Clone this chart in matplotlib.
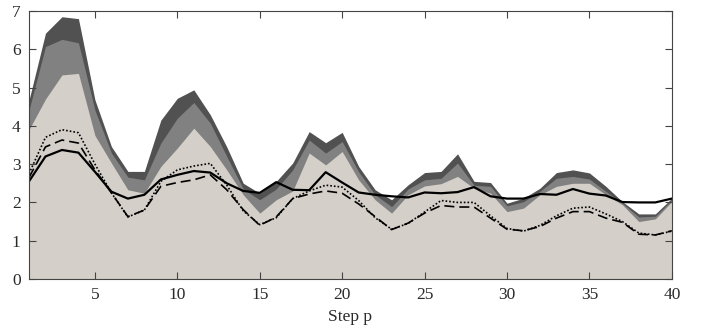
import numpy as np
import matplotlib
matplotlib.use('Agg')
import matplotlib.pyplot as plt

plt.rcParams['font.family'] = ['Liberation Serif', 'DejaVu Serif']

steps = np.arange(1, 41)

# top of each filled layer (light base, mid gray, dark gray)
layer_light = [3.9, 4.7, 5.33, 5.37, 3.75, 3.03, 2.33, 2.24, 2.94, 3.42,
               3.94, 3.46, 2.85, 2.2, 1.72, 2.07, 2.3, 3.29, 2.98, 3.33,
               2.59, 2.07, 1.72, 2.2, 2.43, 2.49, 2.68, 2.37, 2.24, 1.76,
               1.85, 2.2, 2.42, 2.5, 2.5, 2.2, 1.94, 1.5, 1.57, 2.02]
layer_mid = [4.41, 6.07, 6.26, 6.17, 4.41, 3.29, 2.66, 2.59, 3.55, 4.2,
             4.61, 4.07, 3.2, 2.35, 2.07, 2.35, 2.85, 3.63, 3.29, 3.59,
             2.8, 2.2, 1.89, 2.35, 2.59, 2.63, 3.03, 2.45, 2.42, 1.91,
             2.02, 2.29, 2.63, 2.68, 2.61, 2.29, 1.98, 1.62, 1.64, 2.07]
layer_dark = [4.67, 6.42, 6.85, 6.8, 4.68, 3.46, 2.81, 2.81, 4.15, 4.72,
              4.94, 4.29, 3.45, 2.5, 2.24, 2.55, 3.03, 3.85, 3.56, 3.83,
              2.94, 2.33, 2.07, 2.46, 2.78, 2.81, 3.27, 2.55, 2.52, 1.98,
              2.11, 2.37, 2.78, 2.85, 2.77, 2.42, 2.02, 1.7, 1.7, 2.11]

solid = [2.55, 3.2, 3.37, 3.3, 2.8, 2.28, 2.1, 2.2, 2.6, 2.72,
         2.82, 2.78, 2.5, 2.3, 2.25, 2.53, 2.33, 2.32, 2.79, 2.52,
         2.26, 2.2, 2.16, 2.13, 2.26, 2.24, 2.27, 2.4, 2.16, 2.1,
         2.1, 2.22, 2.2, 2.35, 2.23, 2.18, 2.01, 2.0, 2.0, 2.1]
dashed = [2.65, 3.45, 3.63, 3.55, 2.85, 2.25, 1.63, 1.8, 2.42, 2.52,
          2.59, 2.72, 2.33, 1.81, 1.4, 1.62, 2.1, 2.22, 2.3, 2.24,
          1.96, 1.63, 1.29, 1.46, 1.72, 1.92, 1.88, 1.88, 1.59, 1.3,
          1.26, 1.37, 1.59, 1.76, 1.76, 1.59, 1.48, 1.17, 1.15, 1.26]
dotted = [2.75, 3.7, 3.9, 3.82, 3.0, 2.25, 1.62, 1.8, 2.55, 2.85,
          2.95, 3.02, 2.45, 1.78, 1.42, 1.6, 2.1, 2.3, 2.45, 2.4,
          2.05, 1.6, 1.3, 1.45, 1.75, 2.05, 2.0, 2.0, 1.65, 1.32,
          1.25, 1.4, 1.65, 1.85, 1.88, 1.7, 1.5, 1.2, 1.15, 1.25]

fig = plt.figure(figsize=(7.02, 3.28), dpi=100)
ax = fig.add_axes([0.0413, 0.1494, 0.9157, 0.8171])

ax.fill_between(steps, 0, layer_dark, color='#515151', lw=0)
ax.fill_between(steps, 0, layer_mid, color='#818181', lw=0)
ax.fill_between(steps, 0, layer_light, color='#d4d0c9', lw=0)

ax.plot(steps, dotted, color='black', lw=1.2, ls=(0, (1, 1.2)))
ax.plot(steps, dashed, color='black', lw=1.2, ls=(0, (6, 3)))
ax.plot(steps, solid, color='black', lw=1.6)

ax.set_xlim(1, 40)
ax.set_ylim(0, 7)
ax.set_xticks(range(5, 41, 5))
ax.set_yticks(range(0, 8))
ax.tick_params(direction='in', top=True, right=True, length=5, width=0.8,
               labelsize=12.5, pad=6, colors='#444444', labelcolor='#2a2a2a')
for s in ax.spines.values():
    s.set_color('#444444')
    s.set_linewidth(0.8)
ax.set_xlabel('Step p', fontsize=12.5, labelpad=4, color='#2a2a2a')

fig.savefig('out.png', dpi=100)
